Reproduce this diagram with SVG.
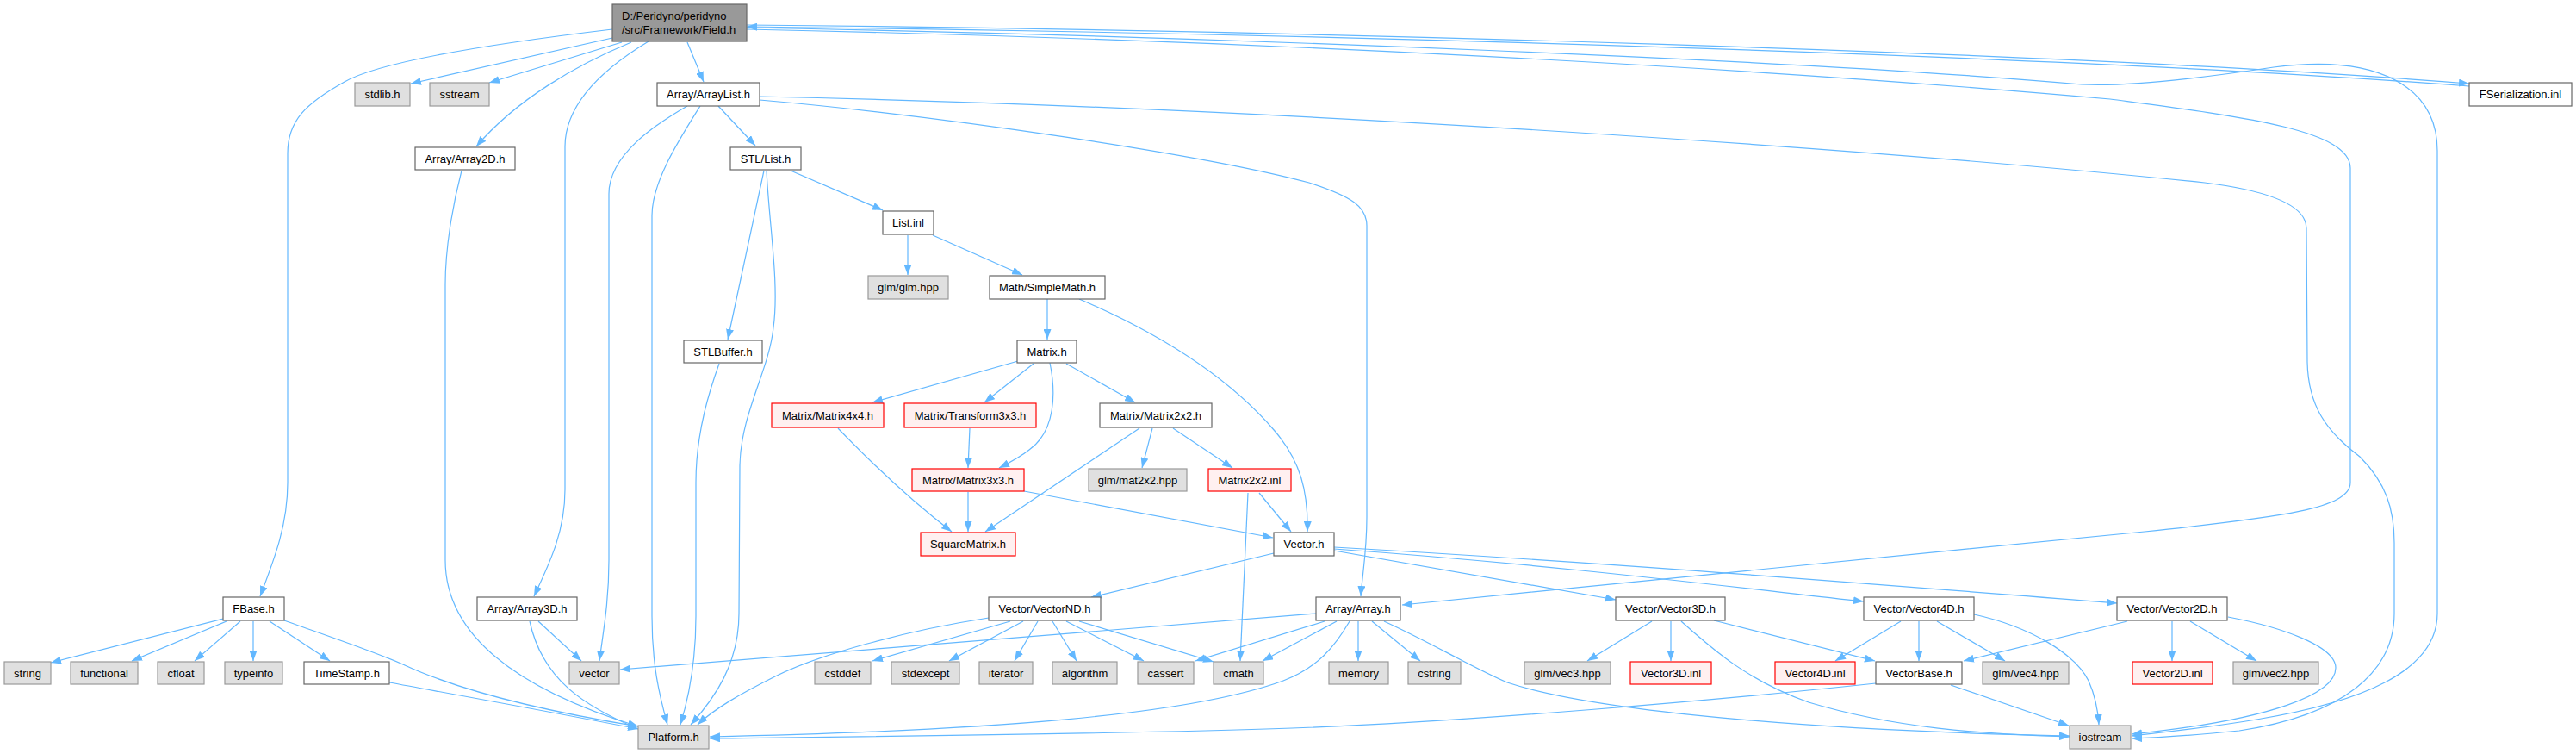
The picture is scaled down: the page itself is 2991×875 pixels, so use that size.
<svg xmlns="http://www.w3.org/2000/svg" width="2991" height="875" viewBox="0 0 2991 875">
<defs>
<style>
.n rect{stroke-width:1.2}
.w rect{fill:#ffffff;stroke:#666666}
.g rect{fill:#e0e0e0;stroke:#999999}
.r rect{fill:#fff0f0;stroke:#ff0000}
.m rect{fill:#999999;stroke:#666666}
text{font-family:"Liberation Sans",Arial,sans-serif;font-size:13px;fill:#000000;text-anchor:middle}
.e path{fill:none;stroke:#63b8ff;stroke-width:1.2;marker-end:url(#ah)}
</style>
<marker id="ah" viewBox="0 0 12 9" refX="12" refY="4.5" markerWidth="12" markerHeight="9" markerUnits="userSpaceOnUse" orient="auto">
<path d="M0,0 L12,4.5 L0,9 z" fill="#63b8ff"/>
</marker>
</defs>
<rect width="2991" height="875" fill="#ffffff"/>
<g id="edges" class="e">
<path d="M711,34 C560,52 440,72 400,95 C355,120 334,140 334,178 L334,560 C334,610 318,650 302,692"/>
<path d="M711,44 L477,97"/>
<path d="M722,49 L568,96"/>
<path d="M733,49 C670,75 600,115 553,170"/>
<path d="M753,48 C700,80 656,120 656,170 L656,568 C656,615 640,650 620,692"/>
<path d="M798,49 L817,95"/>
<path d="M867,29 C1500,35 2400,60 2867,97"/>
<path d="M2867,100 C2400,64 1500,38 867,31"/>
<path d="M867,32 C1400,42 2100,70 2417,98 C2470,101 2560,90 2640,78 C2760,62 2830,100 2830,175 L2830,712 C2830,780 2740,815 2620,835 C2560,845 2510,850 2475,854"/>
<path d="M867,34 C1400,45 2000,75 2450,115 C2600,135 2729,150 2729,195 L2729,560 C2729,590 2650,600 2490,617 C2200,645 1900,675 1628,702"/>
<path d="M882,116 C1100,135 1400,180 1520,212 C1570,228 1587,240 1587,262 L1587,600 C1587,640 1582,665 1580,692"/>
<path d="M882,112 C1500,125 2200,175 2560,212 C2640,222 2678,240 2678,265 L2679,420 C2680,470 2700,500 2740,530 C2770,560 2780,590 2780,630 L2780,712 C2780,780 2720,830 2600,848 C2550,853 2510,856 2475,857"/>
<path d="M834,123 L877,169"/>
<path d="M798,123 C760,145 707,180 707,225 L707,650 C707,700 700,735 696,767"/>
<path d="M813,123 C790,160 757,210 757,250 L757,715 C757,770 765,805 775,841"/>
<path d="M887,198 L845,394"/>
<path d="M890,198 C893,260 905,330 898,380 C893,430 860,480 859,540 L858,712 C858,770 830,810 802,841"/>
<path d="M835,422 C825,450 808,500 808,560 L808,715 C808,775 798,815 790,841"/>
<path d="M918,198 L1025,244"/>
<path d="M1054,273 L1054,319"/>
<path d="M1083,273 L1187,319"/>
<path d="M1216,347 L1216,394"/>
<path d="M1253,347 C1330,380 1420,430 1480,500 C1510,535 1519,570 1518,617"/>
<path d="M1182,419 L1013,467"/>
<path d="M1200,422 L1143,467"/>
<path d="M1219,421 C1226,455 1226,500 1195,522 C1185,530 1172,537 1160,543"/>
<path d="M1238,422 L1318,467"/>
<path d="M973,497 C1000,525 1050,575 1105,617"/>
<path d="M1126,497 L1124,543"/>
<path d="M1124,571 L1124,617"/>
<path d="M1189,570 L1478,624"/>
<path d="M1323,497 L1144,617"/>
<path d="M1338,497 L1326,543"/>
<path d="M1362,497 L1431,543"/>
<path d="M1462,572 L1499,617"/>
<path d="M1449,572 L1440,767"/>
<path d="M1479,642 L1267,693"/>
<path d="M1549,639 L1876,696"/>
<path d="M1549,637 C1800,655 2000,680 2164,698"/>
<path d="M1549,635 C1900,655 2200,680 2458,700"/>
<path d="M1148,717 C1050,732 950,760 900,785 C860,805 830,822 810,841"/>
<path d="M1173,721 L1013,767"/>
<path d="M1188,721 L1102,767"/>
<path d="M1205,721 L1178,767"/>
<path d="M1222,721 L1250,767"/>
<path d="M1238,721 L1328,767"/>
<path d="M1253,721 L1409,768"/>
<path d="M1528,712 L720,777"/>
<path d="M1567,721 C1550,750 1530,775 1490,790 C1380,830 1150,848 824,855"/>
<path d="M1538,721 L1388,767"/>
<path d="M1552,721 L1466,767"/>
<path d="M1577,721 L1577,767"/>
<path d="M1593,721 L1649,767"/>
<path d="M1607,721 C1660,745 1710,775 1750,792 C1850,825 2100,848 2403,854"/>
<path d="M625,721 L675,767"/>
<path d="M615,721 C630,790 680,820 741,846"/>
<path d="M536,198 C525,240 517,290 517,330 L517,650 C517,760 650,815 741,843"/>
<path d="M259,718 L59,769"/>
<path d="M263,721 L153,767"/>
<path d="M279,721 L226,767"/>
<path d="M294,721 L294,767"/>
<path d="M313,721 L383,767"/>
<path d="M330,720 C380,738 440,758 470,772 C520,795 600,820 741,843"/>
<path d="M452,792 C550,810 650,828 741,846"/>
<path d="M1918,721 L1843,767"/>
<path d="M1940,721 L1940,767"/>
<path d="M1952,721 C1990,755 2030,790 2100,815 C2200,845 2300,852 2403,855"/>
<path d="M1990,720 L2177,767"/>
<path d="M2207,721 L2131,767"/>
<path d="M2228,721 L2228,767"/>
<path d="M2249,721 L2328,767"/>
<path d="M2292,713 C2360,728 2410,760 2425,790 C2433,808 2436,825 2437,841"/>
<path d="M2265,795 L2402,842"/>
<path d="M2178,793 C2000,812 1700,838 1500,845 C1300,852 1000,855 824,857"/>
<path d="M2470,721 L2280,767"/>
<path d="M2522,721 L2522,767"/>
<path d="M2543,721 L2620,767"/>
<path d="M2587,716 C2650,728 2712,750 2712,775 C2712,805 2640,835 2475,852"/>
</g>
<g id="n_field" class="n m"><rect x="711" y="5" width="156" height="43"/><text x="722" y="23" style="text-anchor:start">D:/Peridyno/peridyno</text><text x="722" y="39" style="text-anchor:start">/src/Framework/Field.h</text></g>
<g id="n_stdlib" class="n g"><rect x="412" y="96" width="64" height="27"/><text x="444" y="114">stdlib.h</text></g>
<g id="n_sstream" class="n g"><rect x="499" y="96" width="69" height="27"/><text x="533.5" y="114">sstream</text></g>
<g id="n_arraylist" class="n w"><rect x="763" y="96" width="119" height="27"/><text x="822.5" y="114">Array/ArrayList.h</text></g>
<g id="n_fserial" class="n w"><rect x="2867" y="96" width="119" height="27"/><text x="2926.5" y="114">FSerialization.inl</text></g>
<g id="n_array2d" class="n w"><rect x="482" y="171" width="116" height="26"/><text x="540" y="189">Array/Array2D.h</text></g>
<g id="n_stllist" class="n w"><rect x="848" y="171" width="82" height="26"/><text x="889" y="189">STL/List.h</text></g>
<g id="n_listinl" class="n w"><rect x="1025" y="245" width="59" height="27"/><text x="1054.5" y="263">List.inl</text></g>
<g id="n_glm" class="n g"><rect x="1008" y="320" width="93" height="27"/><text x="1054.5" y="338">glm/glm.hpp</text></g>
<g id="n_simplemath" class="n w"><rect x="1149" y="320" width="134" height="27"/><text x="1216" y="338">Math/SimpleMath.h</text></g>
<g id="n_stlbuffer" class="n w"><rect x="794" y="395" width="91" height="26"/><text x="839.5" y="413">STLBuffer.h</text></g>
<g id="n_matrix" class="n w"><rect x="1181" y="395" width="69" height="26"/><text x="1215.5" y="413">Matrix.h</text></g>
<g id="n_m4x4" class="n r"><rect x="896" y="468" width="130" height="28"/><text x="961" y="487">Matrix/Matrix4x4.h</text></g>
<g id="n_t3x3" class="n r"><rect x="1050" y="468" width="153" height="28"/><text x="1126.5" y="487">Matrix/Transform3x3.h</text></g>
<g id="n_m2x2" class="n w"><rect x="1277" y="468" width="130" height="28"/><text x="1342" y="487">Matrix/Matrix2x2.h</text></g>
<g id="n_m3x3" class="n r"><rect x="1059" y="544" width="130" height="26"/><text x="1124" y="562">Matrix/Matrix3x3.h</text></g>
<g id="n_mat2x2" class="n g"><rect x="1264" y="544" width="114" height="26"/><text x="1321" y="562">glm/mat2x2.hpp</text></g>
<g id="n_m2x2inl" class="n r"><rect x="1403" y="544" width="96" height="26"/><text x="1451" y="562">Matrix2x2.inl</text></g>
<g id="n_square" class="n r"><rect x="1069" y="618" width="110" height="27"/><text x="1124" y="636">SquareMatrix.h</text></g>
<g id="n_vector_h" class="n w"><rect x="1479" y="618" width="70" height="27"/><text x="1514" y="636">Vector.h</text></g>
<g id="n_fbase" class="n w"><rect x="259" y="693" width="71" height="27"/><text x="294.5" y="711">FBase.h</text></g>
<g id="n_array3d" class="n w"><rect x="554" y="693" width="116" height="27"/><text x="612" y="711">Array/Array3D.h</text></g>
<g id="n_vectornd" class="n w"><rect x="1148" y="693" width="130" height="27"/><text x="1213" y="711">Vector/VectorND.h</text></g>
<g id="n_array" class="n w"><rect x="1528" y="693" width="98" height="27"/><text x="1577" y="711">Array/Array.h</text></g>
<g id="n_vec3d" class="n w"><rect x="1876" y="693" width="127" height="27"/><text x="1939.5" y="711">Vector/Vector3D.h</text></g>
<g id="n_vec4d" class="n w"><rect x="2164" y="693" width="128" height="27"/><text x="2228" y="711">Vector/Vector4D.h</text></g>
<g id="n_vec2d" class="n w"><rect x="2458" y="693" width="128" height="27"/><text x="2522" y="711">Vector/Vector2D.h</text></g>
<g id="n_string" class="n g"><rect x="5" y="768" width="54" height="26"/><text x="32" y="786">string</text></g>
<g id="n_functional" class="n g"><rect x="82" y="768" width="78" height="26"/><text x="121" y="786">functional</text></g>
<g id="n_cfloat" class="n g"><rect x="183" y="768" width="54" height="26"/><text x="210" y="786">cfloat</text></g>
<g id="n_typeinfo" class="n g"><rect x="261" y="768" width="67" height="26"/><text x="294.5" y="786">typeinfo</text></g>
<g id="n_timestamp" class="n w"><rect x="353" y="768" width="99" height="26"/><text x="402.5" y="786">TimeStamp.h</text></g>
<g id="n_vector" class="n g"><rect x="661" y="768" width="58" height="26"/><text x="690" y="786">vector</text></g>
<g id="n_cstddef" class="n g"><rect x="946" y="768" width="65" height="26"/><text x="978.5" y="786">cstddef</text></g>
<g id="n_stdexcept" class="n g"><rect x="1035" y="768" width="79" height="26"/><text x="1074.5" y="786">stdexcept</text></g>
<g id="n_iterator" class="n g"><rect x="1137" y="768" width="62" height="26"/><text x="1168" y="786">iterator</text></g>
<g id="n_algorithm" class="n g"><rect x="1222" y="768" width="75" height="26"/><text x="1259.5" y="786">algorithm</text></g>
<g id="n_cassert" class="n g"><rect x="1321" y="768" width="65" height="26"/><text x="1353.5" y="786">cassert</text></g>
<g id="n_cmath" class="n g"><rect x="1409" y="768" width="58" height="26"/><text x="1438" y="786">cmath</text></g>
<g id="n_memory" class="n g"><rect x="1543" y="768" width="69" height="26"/><text x="1577.5" y="786">memory</text></g>
<g id="n_cstring" class="n g"><rect x="1635" y="768" width="61" height="26"/><text x="1665.5" y="786">cstring</text></g>
<g id="n_vec3hpp" class="n g"><rect x="1770" y="768" width="100" height="26"/><text x="1820" y="786">glm/vec3.hpp</text></g>
<g id="n_vec3inl" class="n r"><rect x="1893" y="768" width="94" height="26"/><text x="1940" y="786">Vector3D.inl</text></g>
<g id="n_vec4inl" class="n r"><rect x="2061" y="768" width="93" height="26"/><text x="2107.5" y="786">Vector4D.inl</text></g>
<g id="n_vectorbase" class="n w"><rect x="2178" y="768" width="100" height="26"/><text x="2228" y="786">VectorBase.h</text></g>
<g id="n_vec4hpp" class="n g"><rect x="2302" y="768" width="100" height="26"/><text x="2352" y="786">glm/vec4.hpp</text></g>
<g id="n_vec2inl" class="n r"><rect x="2476" y="768" width="93" height="26"/><text x="2522.5" y="786">Vector2D.inl</text></g>
<g id="n_vec2hpp" class="n g"><rect x="2593" y="768" width="99" height="26"/><text x="2642.5" y="786">glm/vec2.hpp</text></g>
<g id="n_platform" class="n g"><rect x="741" y="842" width="82" height="27"/><text x="782" y="860">Platform.h</text></g>
<g id="n_iostream" class="n g"><rect x="2403" y="842" width="71" height="27"/><text x="2438.5" y="860">iostream</text></g>
</svg>
